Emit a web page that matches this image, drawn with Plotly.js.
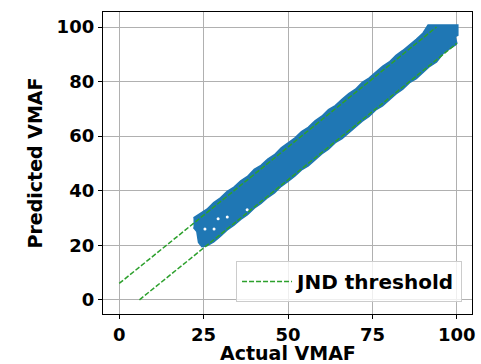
<!DOCTYPE html>
<html>
<head>
<meta charset="utf-8">
<script src="https://cdn.plot.ly/plotly-3.0.1.min.js"></script>
<style>html,body{margin:0;padding:0;background:#fff;}#chart{width:481px;height:364px;}</style>
</head>
<body>
<div id="chart"></div>
<script>
// Upper edge of the dense scatter band (Actual VMAF, Predicted VMAF)
const upperX = [22, 24, 26, 28, 30, 32, 34, 36, 38, 40, 42, 44, 46, 48, 50, 52, 54, 56, 58, 60, 62, 64, 66, 68, 70, 72, 74, 76, 78, 80, 82, 84, 86, 88, 90, 91.5, 100.3, 100.3, 99.5, 100];
const upperY = [30, 31.5, 33.2, 35.6, 37.4, 39.8, 41.3, 43.6, 45.2, 47.8, 49.3, 51.6, 53.2, 55.7, 57.4, 59.3, 61.7, 63.2, 65.6, 67.3, 69.7, 71.2, 73.5, 75.6, 77.2, 79.7, 81.3, 83.4, 85.6, 87.2, 89.6, 91.4, 93.3, 95.5, 97.8, 100.7, 100.7, 97, 96.5, 94];
// Lower edge of the band, from right to left
const lowerX = [99.5, 98, 96, 94, 92, 90, 88, 86, 84, 82, 80, 78, 76, 74, 72, 70, 68, 66, 64, 62, 60, 58, 56, 54, 52, 50, 48, 46, 44, 42, 40, 38, 36, 34, 32, 30, 28, 26, 24.5, 23.5, 23, 22];
const lowerY = [93.3, 92.2, 90.4, 87.2, 85.6, 83.5, 81.1, 79.6, 77.2, 75.5, 73.4, 71.1, 69.6, 67.2, 65.5, 63.3, 61.4, 59.1, 57.6, 55.2, 53.5, 51.4, 49.1, 47.6, 45.3, 43.4, 41.6, 39.2, 37.5, 35.3, 33.6, 31.2, 29.5, 27.4, 25.6, 23.3, 21.2, 19.8, 19.5, 21, 25, 26.5];
// Small gaps inside the low end of the band
const gapX = [29.3, 32, 37.9, 25.4, 28.1];
const gapY = [29.7, 30.4, 33, 26, 26];
// JND threshold lines (upper and lower)
const jndUpperX = [0, 94];
const jndUpperY = [6, 100];
const jndLowerX = [6, 100];
const jndLowerY = [0, 94];
const xTicks = [0, 25, 50, 75, 100];
const yTicks = [0, 20, 40, 60, 80, 100];
const xTitle = 'Actual VMAF';
const yTitle = 'Predicted VMAF';

const blue = '#1f77b4';
const green = '#2ca02c';
const tickFont = {family: 'DejaVu Sans', size: 18, color: '#000', weight: 'bold'};
const titleFont = {family: 'DejaVu Sans', size: 19, color: '#000', weight: 'bold'};
const legendFont = {family: 'DejaVu Sans', size: 20, color: '#000', weight: 'bold'};

const traces = [
  {
    x: upperX.concat(lowerX), y: upperY.concat(lowerY),
    type: 'scatter', mode: 'lines', fill: 'toself',
    fillcolor: blue, line: {color: blue, width: 1.5}, showlegend: false, hoverinfo: 'skip'
  },
  {
    x: gapX, y: gapY, type: 'scatter', mode: 'markers',
    marker: {color: '#ffffff', size: 3}, showlegend: false
  },
  {
    x: jndUpperX, y: jndUpperY, type: 'scatter', mode: 'lines',
    line: {color: green, width: 1.5, dash: '5px,2px'}, name: 'JND threshold', showlegend: true
  },
  {
    x: jndLowerX, y: jndLowerY, type: 'scatter', mode: 'lines',
    line: {color: green, width: 1.5, dash: '5px,2px'}, name: 'JND threshold', showlegend: false
  }
];

const axisCommon = {
  showgrid: true, gridcolor: '#b0b0b0', gridwidth: 1,
  zeroline: false, showline: true, mirror: true, linecolor: '#000', linewidth: 1.2,
  ticks: 'outside', ticklen: 4, tickcolor: '#000', tickwidth: 1,
  tickfont: tickFont, automargin: false
};

const layout = {
  width: 481, height: 364,
  margin: {l: 103, r: 9, t: 12, b: 50},
  paper_bgcolor: '#fff', plot_bgcolor: '#fff',
  xaxis: Object.assign({}, axisCommon, {
    range: [-4.8, 104.5], tickvals: xTicks, ticktext: xTicks.map(String)
  }),
  yaxis: Object.assign({}, axisCommon, {
    range: [-5.2, 105.5], tickvals: yTicks, ticktext: yTicks.map(String),
    title: {text: yTitle, font: titleFont, standoff: 9}
  }),
  annotations: [{
    text: xTitle, font: titleFont, showarrow: false,
    xref: 'paper', yref: 'paper', x: 0.5, y: -0.13, xanchor: 'center', yanchor: 'middle'
  }],
  legend: {
    x: 0.973, y: 0.04, xanchor: 'right', yanchor: 'bottom',
    bgcolor: 'rgba(255,255,255,0.8)', bordercolor: '#cccccc', borderwidth: 1,
    font: legendFont, itemwidth: 50
  },
  showlegend: true
};

Plotly.newPlot('chart', traces, layout, {staticPlot: true, displayModeBar: false});
</script>
</body>
</html>
